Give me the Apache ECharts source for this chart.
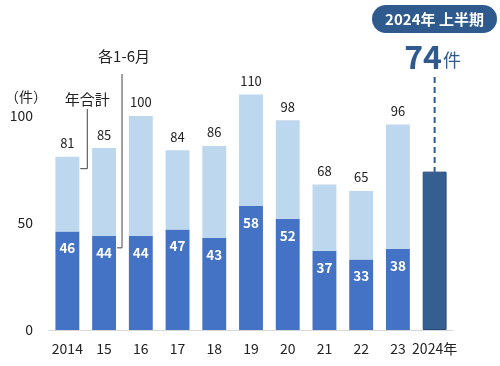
<!DOCTYPE html>
<html><head><meta charset="utf-8">
<script src="https://cdn.jsdelivr.net/npm/echarts@6/dist/echarts.min.js"></script>
<style>html,body{margin:0;padding:0;background:#fff}#c{width:500px;height:366px}</style>
</head><body><div id="c"></div>
<script>
const categories = ['2014','15','16','17','18','19','20','21','22','23','2024年'];
const totals = [81,85,100,84,86,110,98,68,65,96,null];
const firstHalf = [46,44,44,47,43,58,52,37,33,38,74];
const yTicks = [0,50,100];

const FONT = '"Noto Sans CJK JP", "Noto Sans", sans-serif';
const chart = echarts.init(document.getElementById('c'));
const last = categories.length - 1;

const h1Data = firstHalf.map((v,i) => i === last
  ? {value: v, itemStyle:{color:'#355f91', borderColor:'#234a78', borderWidth:1}, label:{show:false}}
  : v);
const restData = totals.map((t,i) => t == null ? null : t - firstHalf[i]);

chart.setOption({
  animation:false,
  grid:{left:49, right:47, top:9, bottom:36},
  xAxis:{type:'category', data:categories,
    axisLine:{lineStyle:{color:'#d9d9d9'}}, axisTick:{show:false},
    axisLabel:{color:'#222', fontSize:14, fontFamily:FONT, margin:12, interval:0}},
  yAxis:{type:'value', min:0, max:150, interval:50,
    splitLine:{show:false}, axisLine:{show:false}, axisTick:{show:false},
    axisLabel:{color:'#222', fontSize:14, fontFamily:FONT, margin:16,
      formatter:v => yTicks.includes(v) ? String(v) : ''}},
  series:[
    {type:'bar', stack:'a', data:h1Data, barWidth:'65%',
      itemStyle:{color:'#4472c4'},
      label:{show:true, position:'insideTop', distance:10, color:'#fff',
        fontSize:13.5, fontWeight:'bold', fontFamily:FONT}},
    {type:'bar', stack:'a', data:restData,
      itemStyle:{color:'#bdd7ee'},
      label:{show:true, position:'top', distance:7, color:'#222', fontSize:13, fontFamily:FONT,
        formatter:p => String(totals[p.dataIndex])}}
  ]
});

const px = (i,v) => chart.convertToPixel({gridIndex:0}, [i,v]);
const p74 = px(last, firstHalf[last]);
const p0 = px(0, 0), p1 = px(1, 0);
const halfBar = (p1[0]-p0[0]) * 0.65 / 2;
const ann1Top = px(0, totals[0]);
const ann2 = px(1, firstHalf[1]);
const lineStyle = {stroke:'#444', lineWidth:1, fill:null};

chart.setOption({graphic:[
  {type:'text', left:5, top:90, style:{text:'（件）', font:'14px '+FONT, fill:'#222'}},
  // 年合計 annotation
  {type:'text', x:p0[0]+halfBar+8, y:92, style:{text:'年合計', font:'15px '+FONT, fill:'#222', textAlign:'center'}},
  {type:'polyline', shape:{points:[[p0[0]+halfBar+8,109],[p0[0]+halfBar+8,ann1Top[1]+12],[p0[0]+halfBar+1,ann1Top[1]+12]]}, style:lineStyle},
  // 各1-6月 annotation
  {type:'text', x:p1[0]+halfBar+8, y:49, style:{text:'各1-6月', font:'15px '+FONT, fill:'#222', textAlign:'center'}},
  {type:'polyline', shape:{points:[[p1[0]+halfBar+6,74],[p1[0]+halfBar+6,ann2[1]+12],[p1[0]+halfBar+1,ann2[1]+12]]}, style:lineStyle},
  // 2024 badge
  {type:'rect', shape:{x:372, y:5, width:125, height:28, r:14}, style:{fill:'#2f5a8e'}},
  {type:'text', x:434.5, y:19, style:{text:'2024年 上半期', font:'bold 15px '+FONT, fill:'#fff', textAlign:'center', textVerticalAlign:'middle'}},
  {type:'text', x:442, y:57, style:{text:String(firstHalf[last]), font:'bold 32px '+FONT, fill:'#2f5a8e', textAlign:'right', textVerticalAlign:'middle'}},
  {type:'text', x:443, y:60, style:{text:'件', font:'18px '+FONT, fill:'#2f5a8e', textAlign:'left', textVerticalAlign:'middle'}},
  {type:'line', shape:{x1:p74[0], y1:77, x2:p74[0], y2:p74[1]}, style:{stroke:'#2f5a8e', lineWidth:2, lineDash:[6,4]}}
]});
</script></body></html>
